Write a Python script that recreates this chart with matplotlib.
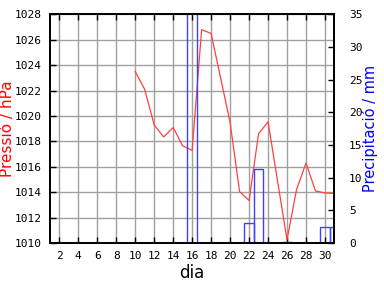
import numpy as np
import matplotlib
matplotlib.use('Agg')
import matplotlib.pyplot as plt

# pressure, one value per day (days 10-31)
press_days = [10, 11, 12, 13, 14, 15, 16, 17, 18, 19, 20, 21, 22, 23, 24, 25, 26, 27, 28, 29, 30, 31]
pressure = [1023.5, 1022.1, 1019.3, 1018.35, 1019.1, 1017.65, 1017.3, 1026.8, 1026.5, 1023.0,
            1019.5, 1014.05, 1013.35, 1018.6, 1019.55, 1014.9, 1010.25, 1014.2, 1016.3, 1014.1,
            1013.95, 1013.9]

# precipitation totals (mm)
rain_days = [16, 22, 23, 26, 30, 31]
rain = [40.0, 3.0, 11.4, 0.2, 2.4, 2.4]

red = '#ff4040'
blue = '#4040ff'

fig = plt.figure(figsize=(3.84, 2.88), dpi=100)
ax = fig.add_axes([0.1297, 0.156, 0.7413, 0.794])
ax2 = ax.twinx()

ax.set_xlim(1, 31)
ax.set_ylim(1010, 1028)
ax2.set_ylim(0, 35)

ax.set_xticks(np.arange(2, 31, 2))
ax.set_yticks(np.arange(1010, 1029, 2))
ax2.set_yticks(np.arange(0, 36, 5))
ax.grid(True, color='#a0a0a0', lw=1.0)
ax.set_axisbelow(True)

ax.plot(press_days, pressure, color=red, lw=0.9, zorder=3)
ax2.bar(rain_days, rain, width=1.0, fill=False, edgecolor=blue, lw=1.0)

mono = {'family': 'DejaVu Sans Mono', 'size': 8}
ax.tick_params(axis='both', direction='in', length=4, width=1, top=True, color='black')
ax.tick_params(axis='y', pad=6)
ax.tick_params(axis='x', pad=6)
ax2.tick_params(axis='y', direction='in', length=4, width=1, pad=10.5)
for lab in ax.get_xticklabels() + ax.get_yticklabels() + ax2.get_yticklabels():
    lab.set_fontfamily(mono['family'])
    lab.set_fontsize(mono['size'])

for a in (ax, ax2):
    for s in a.spines.values():
        s.set_linewidth(1.3)

ax.set_xlabel('dia', fontsize=12, va='center')
ax.set_ylabel('Pressió / hPa', color='red', fontsize=11, va='center')
ax2.set_ylabel('Precipitació / mm', color='blue', fontsize=10.5, va='center', rotation=90)
ax.xaxis.set_label_coords(0.5, -0.131)
ax.yaxis.set_label_coords(-0.150, 0.5)
ax2.yaxis.set_label_coords(1.125, 0.5)

fig.savefig('out.png', dpi=100)
